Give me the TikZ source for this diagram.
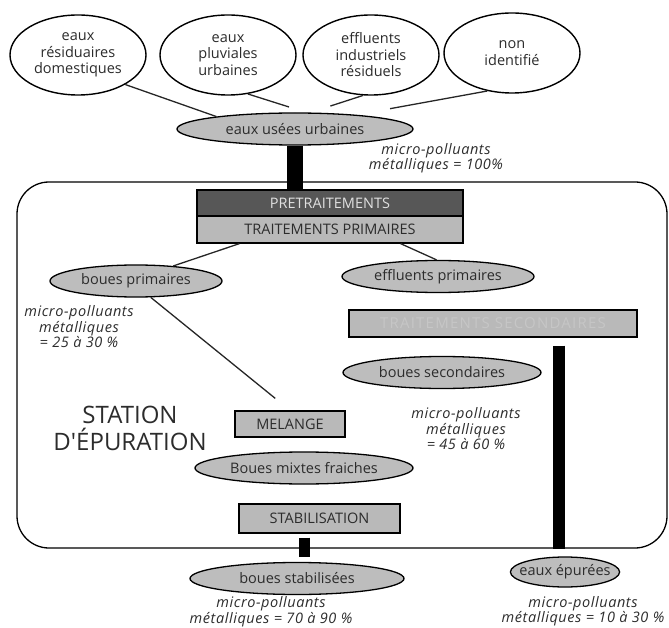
\documentclass[tikz,border=0pt]{standalone}
\usepackage{fontspec}
\setmainfont{Open Sans}
\newfontfamily\faintfont[LetterSpace=8]{Open Sans}
\newfontfamily\notefont[LetterSpace=4]{Open Sans}
\usetikzlibrary{shapes.geometric,calc}
\definecolor{ellfill}{HTML}{BDBDBD}
\definecolor{darkbox}{HTML}{575757}
\definecolor{lightbox}{HTML}{B9B9B9}
\definecolor{txt}{HTML}{2C2C2C}
\definecolor{faint}{HTML}{C6C6C6}
\begin{document}
\begin{tikzpicture}[x=1pt,y=-1pt,
  base/.style={font=\fontsize{14.5}{16.5}\selectfont, text=txt},
  topell/.style={base, ellipse, draw, line width=1.4pt, fill=white, inner sep=0pt, minimum width=136pt, minimum height=80pt, align=center},
  greyell/.style={base, ellipse, draw, line width=1.3pt, fill=ellfill, inner sep=0pt, minimum height=32pt},
  box/.style={base, rectangle, draw, line width=1.3pt, inner sep=0pt},
  link/.style={line width=1.3pt, draw=black!85},
  bar/.style={line width=#1, draw=black},
  note/.style={font=\notefont\itshape\fontsize{14.5}{15.5}\selectfont, text=txt, align=center, inner sep=0pt}
]
\useasboundingbox (0,0) rectangle (669,628);
\draw[line width=1.3pt, rounded corners=32pt] (17,182) rectangle (667,548);

\node[topell] (e1) at (78,55) {eaux\\résiduaires\\domestiques};
\node[topell] (e2) at (228,55) {eaux\\pluviales\\urbaines};
\node[topell] (e3) at (371,55) {effluents\\industriels\\résiduels};
\node[topell] (e4) at (512,53) {non\\identifié};

\node[greyell, minimum width=236pt] (u) at (295,129) {eaux usées urbaines};
\node[note] (n1) at (436,158) {micro-polluants\\métalliques = 100\%};

\node[box, fill=darkbox, text=white!88!black, minimum width=266pt, minimum height=26pt] (pre) at (330,203) {PRETRAITEMENTS};
\node[box, fill=lightbox, minimum width=266pt, minimum height=27pt] (tp) at (330,229.5) {TRAITEMENTS PRIMAIRES};

\node[greyell, minimum width=172pt] (bp) at (136,281) {boues primaires};
\node[greyell, minimum width=192pt] (ef) at (438,276.5) {effluents primaires};
\node[note] (n2) at (79,327) {micro-polluants\\métalliques\\= 25 à 30 \%};

\node[box, fill=lightbox, text=faint, font=\faintfont\fontsize{15}{16}\selectfont, minimum width=288pt, minimum height=27pt] (sec) at (493,323.5) {TRAITEMENTS SECONDAIRES};
\node[greyell, minimum width=198pt] (bs2) at (442,372.5) {boues secondaires};
\node[note] (n3) at (466,429) {micro-polluants\\métalliques\\= 45 à 60 \%};

\node[font=\fontsize{24}{27}\selectfont, text=txt, align=center, inner sep=0pt] (st) at (130,428) {STATION\\D\textquotesingle ÉPURATION};

\node[box, fill=lightbox, minimum width=110pt, minimum height=26pt] (mel) at (290,424) {MELANGE};
\node[greyell, minimum width=218pt] (bm) at (304,468) {Boues mixtes fraiches};
\node[box, fill=lightbox, minimum width=161pt, minimum height=29pt] (stab) at (319.5,518.5) {STABILISATION};
\node[greyell, minimum width=214pt] (bs) at (297,578.5) {boues stabilisées};
\node[note, anchor=south] (n4) at (271,627) {micro-polluants\\métalliques = 70 à 90 \%};
\node[greyell, minimum width=104pt, minimum height=30pt, inner xsep=-7pt] (ep) at (565,572) {eaux épurées};
\node[note] (n5) at (583,611) {micro-polluants\\métalliques = 10 à 30 \%};

\draw[link] (e1.-32) -- (u.171);
\draw[link, shorten >=18pt] (e2.-63) -- (u.56);
\draw[link, shorten >=21pt] (e3.-101) -- (u.47);
\draw[link, shorten >=34pt] (e4.-123) -- (u.13);
\draw[link] ([xshift=43pt]tp.south west) -- (bp.22);
\draw[link] ([xshift=-63pt]tp.south east) -- (ef.95);
\draw[link, shorten >=19pt] (bp.-48) -- (mel.north);

\draw[bar=16pt] (u.south) -- (u.south |- pre.north);
\coordinate (sb) at ([xshift=-15pt]stab.south);
\draw[bar=11pt, shorten <=4pt, shorten >=5pt] (sb) -- (sb |- bs.north);
\coordinate (rb) at ([xshift=66pt]sec.south);
\draw[bar=12pt, shorten <=8pt, shorten >=7pt] (rb) -- (rb |- ep.north);
\end{tikzpicture}
\end{document}
